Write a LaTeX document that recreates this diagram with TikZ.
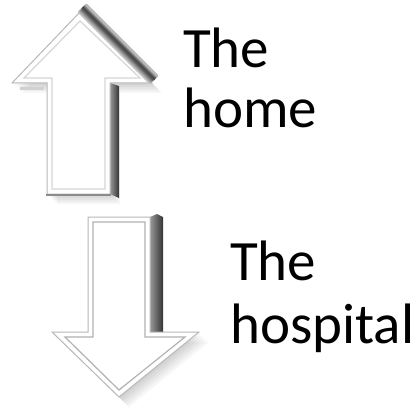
\documentclass[tikz,border=0pt]{standalone}
\usepackage{fontspec}
\setmainfont{Carlito}
\usetikzlibrary{positioning}

\begin{document}
\begin{tikzpicture}[
    x=1pt, y=-1pt,
    face/.style={fill=white, draw=black!28, line width=1pt, line join=miter},
    bevel/.style={draw=black!16, line width=1.2pt, line join=miter},
    haze/.style={fill=black, opacity=0.035},
    side/.style={left color=black!40, right color=black!80},
    label/.style={font=\fontsize{57}{60}\selectfont, inner sep=0pt, anchor=base west}
  ]
  \useasboundingbox[fill=white] (0,0) rectangle (417,409);

  % Up arrow: the home
  \foreach \s in {2,4,...,10}
    \fill[haze, xshift=\s, yshift=-\s] (80,12) -- (152,83) -- (110,83) -- (110,194)
      -- (47,194) -- (47,83) -- (12,83) -- cycle;
  \fill[black!18] (20,87) rectangle (44,90);
  \shade[side] (110,83) -- (119,86) -- (119,198) -- (110,194) -- cycle;
  \draw[face] (80,12) -- (152,83) -- (110,83) -- (110,194)
    -- (47,194) -- (47,83) -- (12,83) -- cycle;
  \draw[bevel] (80,21) -- (140,78) -- (105,78) -- (105,189)
    -- (52,189) -- (52,78) -- (24,78) -- cycle;
  \draw[black!45, line width=1.5pt] (46,195) -- (111,195);
  % rounded ridge on the right slope
  \foreach \i/\c in {0/22, 1/30, 2/40, 3/50, 4/60, 5/68, 6/72, 7/62, 8/45, 9/28} {
    \draw[black!\c, line width=2.5pt, line cap=round]
      ({79+0.8*\i},{12-0.8*\i}) -- ({150+0.8*\i},{83-0.8*\i});
  }

  % Down arrow: the hospital
  \foreach \s in {2,4,...,10}
    \fill[haze, xshift=\s, yshift=-\s] (88,217) -- (150,217) -- (150,332)
      -- (199,332) -- (119,397) -- (52,332) -- (88,332) -- cycle;
  \shade[side] (150,217) -- (157,214) -- (163,217) -- (163,333) -- (150,333) -- cycle;
  \draw[face] (88,217) -- (150,217) -- (150,332) -- (199,332)
    -- (119,397) -- (52,332) -- (88,332) -- cycle;
  \draw[bevel, draw=black!30] (93,222) -- (145,222) -- (145,337) -- (185,337)
    -- (119,390) -- (65,337) -- (93,337) -- cycle;

  % Labels
  \node[label] (home1) at (183,68) {The};
  \node[label] (home2) at ([yshift=-60pt]home1.base west) {home};
  \node[label] (hosp1) at (230,280) {The};
  \node[label] (hosp2) at ([yshift=-63pt]hosp1.base west) {hospital};
\end{tikzpicture}
\end{document}
